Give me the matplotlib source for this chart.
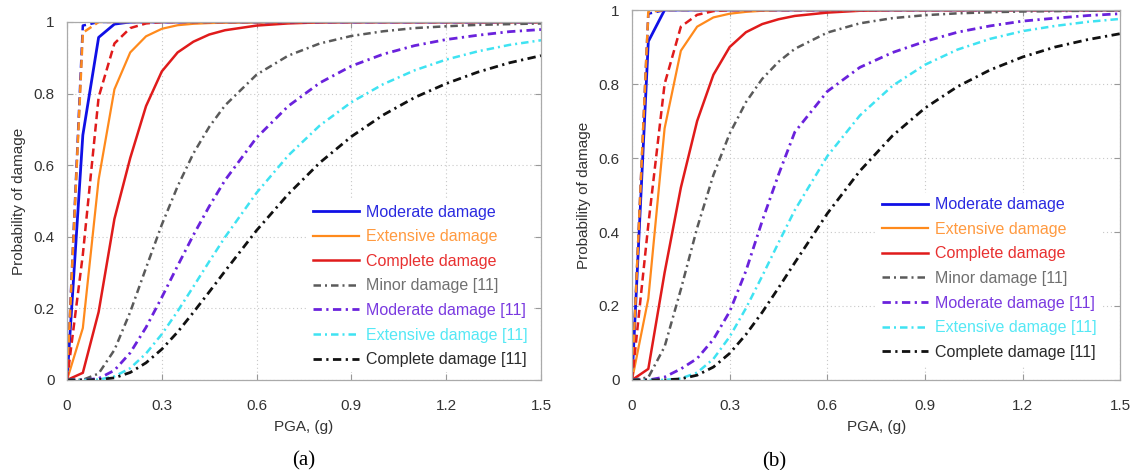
import matplotlib
matplotlib.use("Agg")
import matplotlib.pyplot as plt

plt.rcParams['font.family'] = ['Liberation Sans', 'DejaVu Sans']

# PGA sampling points (g)
pga = [0, 0.05, 0.10, 0.15, 0.20, 0.25, 0.30, 0.35, 0.40, 0.45, 0.50,
       0.60, 0.70, 0.80, 0.90, 1.00, 1.10, 1.20, 1.30, 1.40, 1.50]

x_ticks = [0, 0.3, 0.6, 0.9, 1.2, 1.5]
x_tick_labels = ['0', '0.3', '0.6', '0.9', '1.2', '1.5']
y_ticks = [0, 0.2, 0.4, 0.6, 0.8, 1.0]
y_tick_labels = ['0', '0.2', '0.4', '0.6', '0.8', '1']

legend_labels = ['Moderate damage', 'Extensive damage', 'Complete damage',
                 'Minor damage [11]', 'Moderate damage [11]',
                 'Extensive damage [11]', 'Complete damage [11]']

# ---- panel (a) ----
mod_a = [0, 0.684, 0.957, 0.994, 1, 1, 1, 1, 1, 1, 1,
         1, 1, 1, 1, 1, 1, 1, 1, 1, 1]
ext_a = [0, 0.145, 0.56, 0.812, 0.915, 0.96, 0.981, 0.991, 0.995, 0.997, 0.998,
         0.999, 1, 1, 1, 1, 1, 1, 1, 1, 1]
com_a = [0, 0.02, 0.19, 0.45, 0.62, 0.765, 0.862, 0.915, 0.945, 0.965, 0.977,
         0.99, 0.996, 0.999, 1, 1, 1, 1, 1, 1, 1]
mod_dash_a = [0, 0.99, 1, 1, 1, 1, 1, 1, 1, 1, 1,
              1, 1, 1, 1, 1, 1, 1, 1, 1, 1]
ext_dash_a = [0, 0.97, 1, 1, 1, 1, 1, 1, 1, 1, 1,
              1, 1, 1, 1, 1, 1, 1, 1, 1, 1]
com_dash_a = [0, 0.35, 0.79, 0.94, 0.983, 0.996, 1, 1, 1, 1, 1,
              1, 1, 1, 1, 1, 1, 1, 1, 1, 1]
minor11_a = [0, 0.0005, 0.018, 0.084, 0.190, 0.313, 0.434, 0.541, 0.633, 0.707, 0.767,
             0.853, 0.906, 0.940, 0.961, 0.974, 0.983, 0.988, 0.992, 0.994, 0.996]
mod11_a = [0, 0.0001, 0.004, 0.027, 0.076, 0.147, 0.231, 0.319, 0.405, 0.485, 0.558,
           0.677, 0.765, 0.830, 0.877, 0.910, 0.934, 0.951, 0.963, 0.973, 0.979]
ext11_a = [0, 0, 0.001, 0.010, 0.033, 0.074, 0.128, 0.192, 0.261, 0.331, 0.399,
           0.523, 0.627, 0.711, 0.776, 0.826, 0.865, 0.895, 0.918, 0.936, 0.949]
com11_a = [0, 0, 0.001, 0.006, 0.021, 0.048, 0.086, 0.134, 0.189, 0.246, 0.304,
           0.418, 0.519, 0.607, 0.680, 0.740, 0.789, 0.828, 0.860, 0.886, 0.906]

# ---- panel (b) ----
mod_b = [0, 0.915, 1, 1, 1, 1, 1, 1, 1, 1, 1,
         1, 1, 1, 1, 1, 1, 1, 1, 1, 1]
ext_b = [0, 0.22, 0.68, 0.89, 0.955, 0.98, 0.99, 0.995, 0.998, 1, 1,
         1, 1, 1, 1, 1, 1, 1, 1, 1, 1]
com_b = [0, 0.03, 0.29, 0.52, 0.70, 0.825, 0.90, 0.94, 0.962, 0.975, 0.984,
         0.993, 0.998, 1, 1, 1, 1, 1, 1, 1, 1]
mod_dash_b = [0, 0.99, 1, 1, 1, 1, 1, 1, 1, 1, 1,
              1, 1, 1, 1, 1, 1, 1, 1, 1, 1]
ext_dash_b = [0, 0.995, 1, 1, 1, 1, 1, 1, 1, 1, 1,
              1, 1, 1, 1, 1, 1, 1, 1, 1, 1]
com_dash_b = [0, 0.42, 0.80, 0.955, 0.987, 0.997, 1, 1, 1, 1, 1,
              1, 1, 1, 1, 1, 1, 1, 1, 1, 1]
minor11_b = [0, 0.007, 0.090, 0.245, 0.411, 0.554, 0.666, 0.751, 0.814, 0.860, 0.895,
             0.939, 0.964, 0.978, 0.986, 0.991, 0.994, 0.996, 0.997, 0.998, 0.999]
mod11_b = [0, 0, 0.008, 0.030, 0.058, 0.110, 0.185, 0.295, 0.430, 0.555, 0.670,
           0.780, 0.845, 0.885, 0.915, 0.940, 0.957, 0.970, 0.978, 0.985, 0.990]
ext11_b = [0, 0, 0.0002, 0.004, 0.020, 0.057, 0.117, 0.194, 0.281, 0.371, 0.459,
           0.605, 0.715, 0.795, 0.852, 0.893, 0.922, 0.943, 0.957, 0.968, 0.976]
com11_b = [0, 0, 0.0002, 0.003, 0.013, 0.035, 0.072, 0.123, 0.183, 0.249, 0.317,
           0.450, 0.565, 0.660, 0.735, 0.793, 0.838, 0.873, 0.900, 0.920, 0.936]

# colours
C_BLUE = '#1010e6'
C_ORANGE = '#ff8a1c'
C_RED = '#e01b1b'
C_GRAY = '#5a5a5a'
C_PURPLE = '#6a22dc'
C_CYAN = '#3fe3f2'
C_BLACK = '#111111'
text_colors = ['#2a2ae0', '#ff9a40', '#e83030', '#707070', '#7a3ae0', '#55e8f5', '#2a2a2a']

DASH = (0, (3.2, 1.8))
DASHDOT = (0, (3.0, 1.6, 0.8, 1.6))


def draw_panel(ax, mod, ext, com, mod_d, ext_d, com_d, m11, mo11, e11, c11, legend_anchor):
    h1, = ax.plot(pga, mod, color=C_BLUE, lw=2.0, label=legend_labels[0])
    h2, = ax.plot(pga, ext, color=C_ORANGE, lw=1.6, label=legend_labels[1])
    h3, = ax.plot(pga, com, color=C_RED, lw=1.8, label=legend_labels[2])
    ax.plot(pga, mod_d, color=C_BLUE, lw=1.8, ls=DASH)
    ax.plot(pga, ext_d, color=C_ORANGE, lw=1.8, ls=DASH)
    ax.plot(pga, com_d, color=C_RED, lw=1.8, ls=DASH)
    h4, = ax.plot(pga, m11, color=C_GRAY, lw=1.8, ls=DASHDOT, label=legend_labels[3])
    h5, = ax.plot(pga, mo11, color=C_PURPLE, lw=2.0, ls=DASHDOT, label=legend_labels[4])
    h6, = ax.plot(pga, e11, color=C_CYAN, lw=1.8, ls=DASHDOT, label=legend_labels[5])
    h7, = ax.plot(pga, c11, color=C_BLACK, lw=2.0, ls=DASHDOT, label=legend_labels[6])

    ax.set_xlim(0, 1.5)
    ax.set_ylim(0, 1)
    ax.set_xticks(x_ticks)
    ax.set_xticklabels(x_tick_labels)
    ax.set_yticks(y_ticks)
    ax.set_yticklabels(y_tick_labels)
    ax.tick_params(direction='in', length=4, width=0.8, color='#999999',
                   labelsize=11, labelcolor='#333333', top=True, right=True)
    ax.tick_params(axis='x', pad=14)
    ax.tick_params(axis='y', pad=9)
    for s in ax.spines.values():
        s.set_color('#aaaaaa')
        s.set_linewidth(0.9)
    ax.grid(True, ls=(0, (1, 2.5)), color='#c8c8c8', lw=0.8)
    ax.set_axisbelow(True)
    ax.set_xlabel('PGA, (g)', fontsize=11, color='#333333', labelpad=5)
    ax.set_ylabel('Probability of damage', fontsize=11, color='#333333', labelpad=5)

    leg = ax.legend(handles=[h1, h2, h3, h4, h5, h6, h7], loc='lower right',
                    bbox_to_anchor=legend_anchor, fontsize=11.5, frameon=True,
                    framealpha=1, edgecolor='none', facecolor='white',
                    handlelength=2.9, handletextpad=0.4, labelspacing=0.6,
                    borderpad=0.3, fancybox=False)
    for t, c in zip(leg.get_texts(), text_colors):
        t.set_color(c)
    return leg


fig = plt.figure(figsize=(11.38, 4.70), dpi=100)
ax_a = fig.add_axes([0.0589, 0.1915, 0.4165, 0.7617])
ax_b = fig.add_axes([0.5554, 0.1915, 0.4290, 0.7872])

draw_panel(ax_a, mod_a, ext_a, com_a, mod_dash_a, ext_dash_a, com_dash_a,
           minor11_a, mod11_a, ext11_a, com11_a, (0.998, 0.0))
draw_panel(ax_b, mod_b, ext_b, com_b, mod_dash_b, ext_dash_b, com_dash_b,
           minor11_b, mod11_b, ext11_b, com11_b, (0.977, 0.02))

fig.text(0.2665, 0.020, '(a)', fontsize=15, family='Liberation Serif', ha='center', va='center')
fig.text(0.680, 0.017, '(b)', fontsize=15, family='Liberation Serif', ha='center', va='center')

fig.savefig('out.png', dpi=100, facecolor='white')
